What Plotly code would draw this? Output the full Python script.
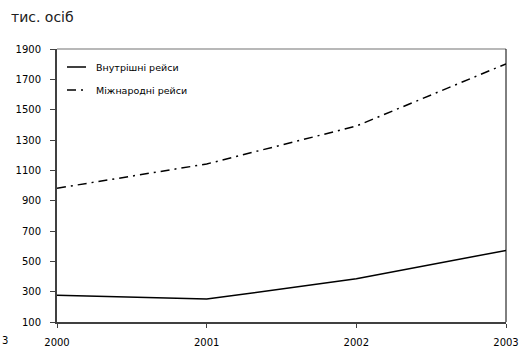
import plotly.graph_objects as go

# Passenger traffic, thousand persons
years = [2000, 2001, 2002, 2003]
domestic = [276, 251, 385, 572]
international = [982, 1142, 1392, 1802]
series_names = ["Внутрішні рейси", "Міжнародні рейси"]
y_ticks = list(range(100, 2000, 200))

FONT = "DejaVu Sans"
DASHDOT = "9px,5px,2px,5px"

fig = go.Figure()
fig.add_trace(go.Scatter(x=years, y=domestic, mode="lines", name=series_names[0],
                         line=dict(color="black", width=1.5), showlegend=False))
fig.add_trace(go.Scatter(x=years, y=international, mode="lines", name=series_names[1],
                         line=dict(color="black", width=1.5, dash=DASHDOT), showlegend=False))

L, R, T, B = 57, 22, 49, 25
W, H = 528, 347
pw, ph = W - L - R, H - T - B


def px_x(x):
    return (x - L) / pw


def px_y(y):
    return 1 - (y - T) / ph


# hand-drawn legend entries
legend_rows = [(67, series_names[0], "solid"), (90, series_names[1], DASHDOT)]
shapes = []
annotations = []
for yy, label, dash in legend_rows:
    shapes.append(dict(type="line", xref="paper", yref="paper",
                       x0=px_x(67), x1=px_x(86), y0=px_y(yy), y1=px_y(yy),
                       line=dict(color="black", width=1.5, dash=dash)))
    annotations.append(dict(text=label, xref="paper", yref="paper",
                            x=px_x(94), y=px_y(yy), xanchor="left", yanchor="middle",
                            showarrow=False, font=dict(family=FONT, size=9.5, color="black")))

# frame: light top edge, black right edge
shapes.append(dict(type="line", xref="paper", yref="paper", x0=0, x1=1, y0=1, y1=1,
                   line=dict(color="#a0a0a0", width=1.5)))
shapes.append(dict(type="line", xref="paper", yref="paper", x0=1, x1=1, y0=0, y1=1,
                   line=dict(color="black", width=1)))

# stray digit at the left edge
annotations.append(dict(text="3", xref="paper", yref="paper",
                        x=px_x(0), y=px_y(340), xanchor="left", yanchor="middle",
                        showarrow=False, font=dict(family=FONT, size=10, color="black")))

fig.update_layout(
    width=W, height=H,
    margin=dict(l=L, r=R, t=T, b=B, pad=0, autoexpand=False),
    paper_bgcolor="white", plot_bgcolor="white",
    font=dict(family=FONT, size=10, color="black"),
    title=dict(text="тис. осіб", xref="container", yref="container",
               x=11 / W, y=1 - 17 / H, xanchor="left", yanchor="middle",
               font=dict(family=FONT, size=14, color="#202020")),
    xaxis=dict(range=[2000, 2003], tickvals=years, ticktext=[str(y) for y in years],
               showgrid=False, zeroline=False, showline=True, linecolor="#404040",
               linewidth=2, ticks="outside", ticklen=4, tickcolor="#404040",
               ticklabelstandoff=6, automargin=False, tickfont=dict(family=FONT, size=10)),
    yaxis=dict(range=[100, 1900], tickvals=y_ticks, showgrid=False, zeroline=False,
               showline=True, linecolor="#404040", linewidth=2, ticks="outside",
               ticklen=5, tickcolor="#404040", ticklabelstandoff=7, automargin=False,
               tickfont=dict(family=FONT, size=10)),
    shapes=shapes,
    annotations=annotations,
)

fig.write_html("out.html")
